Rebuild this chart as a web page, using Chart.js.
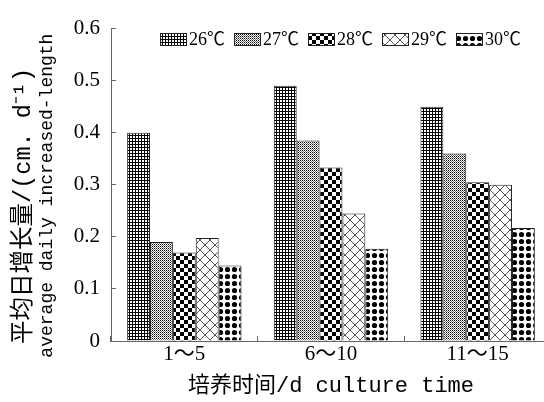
<!DOCTYPE html>
<html>
<head>
<meta charset="utf-8">
<script src="https://cdn.jsdelivr.net/npm/chart.js@4.4.1/dist/chart.umd.min.js"></script>
<style>
html, body { margin: 0; padding: 0; background: #fff; overflow: hidden; }
#wrap { width: 560px; height: 402px; }
</style>
</head>
<body>
<div id="wrap"><canvas id="chart" width="560" height="402"></canvas></div>
<script>
const categories = ['1～5', '6～10', '11～15'];
const temps = ['26℃', '27℃', '28℃', '29℃', '30℃'];
const t26 = [0.40, 0.49, 0.45];
const t27 = [0.19, 0.385, 0.36];
const t28 = [0.17, 0.333, 0.305];
const t29 = [0.198, 0.245, 0.30];
const t30 = [0.145, 0.177, 0.217];

const canvas = document.getElementById('chart');
const ctx = canvas.getContext('2d');

// little tiles for the hatch fills
function makePattern(w, h, draw) {
    const tile = document.createElement('canvas');
    tile.width = w;
    tile.height = h;
    const g = tile.getContext('2d');
    g.fillStyle = '#fff';
    g.fillRect(0, 0, w, h);
    g.fillStyle = '#000';
    g.strokeStyle = '#000';
    draw(g);
    return ctx.createPattern(tile, 'repeat');
}

const patterns = [
    makePattern(3, 3, g => { g.fillRect(0, 0, 3, 1); g.fillRect(0, 0, 1, 3); }),
    makePattern(2, 2, g => { g.fillRect(0, 0, 1, 1); g.fillStyle = '#777'; g.fillRect(1, 1, 1, 1); }),
    makePattern(8, 8, g => { g.fillRect(0, 0, 4, 4); g.fillRect(4, 4, 4, 4); }),
    makePattern(10, 10, g => {
        g.strokeStyle = '#555';
        g.lineWidth = 1;
        g.beginPath();
        g.moveTo(0, 0); g.lineTo(10, 10);
        g.moveTo(10, 0); g.lineTo(0, 10);
        g.stroke();
    }),
    makePattern(7, 7, g => { g.beginPath(); g.arc(3.5, 3.5, 2.6, 0, Math.PI * 2); g.fill(); })
];

const series = [t26, t27, t28, t29, t30];

const patternLegend = {
    id: 'patternLegend',
    afterDraw(chart) {
        const c = chart.ctx;
        c.save();
        c.font = '18px "Liberation Serif", "Noto Sans CJK SC"';
        c.textBaseline = 'middle';
        chart.data.datasets.forEach((ds, i) => {
            const x = 160 + i * 74;
            c.fillStyle = ds.backgroundColor;
            c.fillRect(x, 33, 27, 13);
            c.strokeStyle = '#222';
            c.lineWidth = 1;
            c.strokeRect(x + 0.5, 33.5, 26, 12);
            c.fillStyle = '#000';
            c.fillText(ds.label, x + 29, 40);
        });
        c.restore();
    }
};

new Chart(ctx, {
    type: 'bar',
    data: {
        labels: categories,
        datasets: series.map((vals, i) => ({
            label: temps[i],
            data: vals,
            backgroundColor: patterns[i],
            borderColor: '#222',
            borderWidth: 1,
            barPercentage: 1,
            categoryPercentage: 0.78
        }))
    },
    options: {
        responsive: false,
        animation: false,
        layout: { padding: { top: 19, right: 9, left: 0, bottom: 0 } },
        plugins: { legend: { display: false }, tooltip: { enabled: false } },
        scales: {
            x: {
                grid: { drawOnChartArea: false, tickLength: -5, color: '#666', offset: true },
                border: { color: '#666' },
                ticks: { color: '#000', padding: 6, maxRotation: 0, font: { family: '"Liberation Serif", "Noto Sans CJK SC"', size: 21 } },
                title: {
                    display: true,
                    text: '培养时间/d culture time',
                    color: '#000',
                    font: { family: '"Liberation Mono", "Noto Sans CJK SC"', size: 22 },
                    padding: { top: 0, bottom: 3 }
                },
                afterFit: s => { s.height = 61; }
            },
            y: {
                min: 0,
                max: 0.6,
                grid: { drawOnChartArea: false, tickLength: -5, color: '#666' },
                border: { color: '#666' },
                ticks: {
                    stepSize: 0.1,
                    color: '#000',
                    padding: 16,
                    font: { family: '"Liberation Serif"', size: 21 },
                    callback: v => v === 0 ? '0' : v.toFixed(1)
                },
                title: {
                    display: true,
                    text: 'average daily increased-length  ',
                    color: '#000',
                    font: { family: '"Liberation Mono"', size: 18 },
                    padding: { top: 0, bottom: 0 }
                },
                afterFit: s => { s.width = 75; }
            },
            y2: {
                position: 'left',
                weight: 1,
                min: 0,
                max: 1,
                grid: { display: false },
                border: { display: false },
                ticks: { display: false },
                title: {
                    display: true,
                    text: '平均日增长量/(cm. d⁻¹)   ',
                    color: '#000',
                    font: { family: '"Liberation Mono", "Noto Sans CJK SC"', size: 23.5 },
                    padding: { top: 10, bottom: 0 }
                },
                afterFit: s => { s.width = 36; }
            }
        }
    },
    plugins: [patternLegend]
});
</script>
</body>
</html>
